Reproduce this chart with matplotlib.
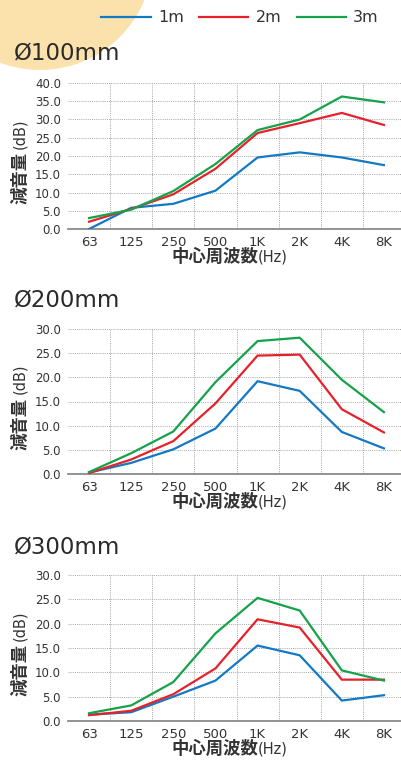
import numpy as np
import matplotlib
matplotlib.use("Agg")
import matplotlib.pyplot as plt
from matplotlib.patches import Circle

plt.rcParams['font.family'] = ['DejaVu Sans', 'Noto Sans CJK JP']

W, H = 401, 763

freqs = ['63', '125', '250', '500', '1K', '2K', '4K', '8K']
series_names = ['1m', '2m', '3m']
colors = ['#1479c4', '#e5222b', '#15a24a']

# Ø100mm
d100_1m = [0.0, 5.8, 6.9, 10.5, 19.6, 21.0, 19.6, 17.5]
d100_2m = [2.0, 5.5, 9.5, 16.5, 26.3, 29.0, 31.8, 28.5]
d100_3m = [3.0, 5.3, 10.4, 17.8, 27.1, 30.0, 36.3, 34.7]
# Ø200mm
d200_1m = [0.3, 2.3, 5.1, 9.4, 19.2, 17.2, 8.7, 5.3]
d200_2m = [0.2, 3.0, 6.8, 14.6, 24.5, 24.7, 13.4, 8.6]
d200_3m = [0.4, 4.3, 8.8, 19.0, 27.5, 28.2, 19.5, 12.8]
# Ø300mm
d300_1m = [1.3, 1.8, 5.0, 8.3, 15.5, 13.5, 4.2, 5.3]
d300_2m = [1.2, 2.1, 5.5, 10.8, 20.9, 19.2, 8.5, 8.5]
d300_3m = [1.6, 3.2, 8.0, 18.0, 25.3, 22.7, 10.4, 8.3]

titles = ['Ø100mm', 'Ø200mm', 'Ø300mm']
ymaxes = [40, 30, 30]
panels = [[d100_1m, d100_2m, d100_3m],
          [d200_1m, d200_2m, d200_3m],
          [d300_1m, d300_2m, d300_3m]]

# pixel layout: (axes top, axes bottom, title y)
layout = [(83, 229, 53), (329, 474, 300), (575, 721, 547)]

fig = plt.figure(figsize=(W / 100, H / 100), dpi=100)

# peach circle in the top left corner
bg = fig.add_axes([0, 0, 1, 1], zorder=-1)
bg.set_xlim(0, W)
bg.set_ylim(H, 0)
bg.axis('off')
bg.add_patch(Circle((40, -43), 113, color='#fbe2ad', lw=0))

def fx(px):
    return px / W

def fy(py):
    return 1 - py / H

left, right = 68, 405
handles = []
for k in range(3):
    top, bot, ty = layout[k]
    ax = fig.add_axes([fx(left), fy(bot), (right - left) / W, (bot - top) / H])
    ax.patch.set_alpha(0)
    x = np.arange(len(freqs))
    for s in range(3):
        ln, = ax.plot(x, panels[k][s], color=colors[s], lw=1.6, label=series_names[s],
                      solid_joinstyle='miter', zorder=3)
        if k == 0:
            handles.append(ln)
    ax.set_xlim(-0.5, len(freqs) - 0.5)
    ax.set_ylim(0, ymaxes[k])
    ax.set_yticks(np.arange(0, ymaxes[k] + 1, 5))
    ax.set_yticklabels(['%.1f' % v for v in np.arange(0, ymaxes[k] + 1, 5)])
    ax.set_xticks(x)
    ax.set_xticklabels(freqs)
    ax.set_xticks(np.arange(0.5, len(freqs) - 1, 1), minor=True)
    ax.tick_params(axis='both', which='both', length=0)
    ax.tick_params(axis='y', labelsize=8.5, labelcolor='#333333', pad=5)
    ax.tick_params(axis='x', labelsize=9.5, labelcolor='#333333', pad=5)
    ax.grid(axis='y', which='major', color='#a6a6a6', ls=(0, (1, 1.2)), lw=0.7)
    ax.grid(axis='x', which='minor', color='#a6a6a6', ls=(0, (1, 1.2)), lw=0.7)
    for sp in ['left', 'right', 'top']:
        ax.spines[sp].set_visible(False)
    ax.spines['bottom'].set_color('#8a8a8a')
    ax.spines['bottom'].set_linewidth(1.3)

    fig.text(fx(14), fy(ty), titles[k], fontsize=16.5, color='#2a2a2a',
             ha='left', va='center')

    # y label
    mid = (top + bot) / 2 - 4
    fig.text(fx(20), fy(mid), '減音量', rotation=90, fontsize=12.5, fontweight='bold',
             color='#333333', ha='center', va='top')
    fig.text(fx(20), fy(mid - 3), '(dB)', rotation=90, fontsize=10.5,
             color='#333333', ha='center', va='bottom')
    # x label
    fig.text(fx(258), fy(bot + 28), '中心周波数', fontsize=12.5, fontweight='bold',
             color='#333333', ha='right', va='center')
    fig.text(fx(258), fy(bot + 28), '(Hz)', fontsize=10.5,
             color='#333333', ha='left', va='center')

fig.legend(handles=handles, labels=series_names, loc='center',
           bbox_to_anchor=(fx(240), fy(18)), ncol=3, frameon=False,
           fontsize=11.5, handlelength=3.1, handletextpad=0.45,
           columnspacing=0.95, borderpad=0, labelcolor='#333333')

fig.savefig('out.png', dpi=100)
